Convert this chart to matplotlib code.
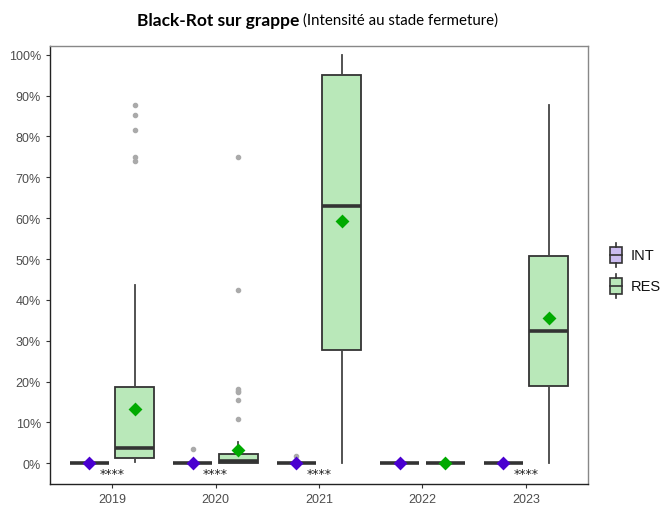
import matplotlib
matplotlib.use("Agg")
import matplotlib.pyplot as plt
from matplotlib.patches import Rectangle
from matplotlib.lines import Line2D

years = ["2019", "2020", "2021", "2022", "2023"]
series = ["INT", "RES"]

# RES box statistics (fractions)
res_whislo = [0.0025, 0.0, 0.0, 0.0, 0.0]
res_q1 = [0.012, 0.0, 0.277, 0.0, 0.188]
res_med = [0.037, 0.006, 0.63, 0.0, 0.323]
res_q3 = [0.186, 0.023, 0.95, 0.0, 0.508]
res_whishi = [0.437, 0.051, 1.0, 0.0, 0.878]
res_mean = [0.132, 0.033, 0.593, 0.0, 0.356]
res_fliers = [[0.877, 0.852, 0.815, 0.749, 0.741],
              [0.75, 0.424, 0.182, 0.177, 0.174, 0.156, 0.109],
              [], [], []]

# INT box statistics (fractions)
int_whislo = [0.0, 0.0, 0.0, 0.0, 0.0]
int_q1 = [0.0, 0.0, 0.0, 0.0, 0.0]
int_med = [0.0, 0.0, 0.0, 0.0, 0.0]
int_q3 = [0.0, 0.0, 0.0, 0.0, 0.0]
int_whishi = [0.0, 0.0, 0.0, 0.0, 0.0]
int_mean = [0.0, 0.0, 0.0, 0.0, 0.0]
int_fliers = [[], [0.035], [0.019, 0.006], [], []]

signif = ["****", "****", "****", "", "****"]

fill_int = "#cbbcf0"
fill_res = "#b9e8b9"
mean_int = "#4a00d0"
mean_res = "#00aa00"
edge = "#333333"

W, H = 664, 506
fig = plt.figure(figsize=(W/100, H/100), dpi=100)
ax = fig.add_axes([50/W, 21/H, 538/W, 437.7/H])

xs = list(range(1, len(years) + 1))
off = 0.22
w = 0.375

def stats(wl, q1, med, q3, wh, fl):
    return [dict(whislo=a, q1=b, med=c, q3=d, whishi=e, fliers=f)
            for a, b, c, d, e, f in zip(wl, q1, med, q3, wh, fl)]

for st, pos, fc in [
    (stats(int_whislo, int_q1, int_med, int_q3, int_whishi, int_fliers), [x - off for x in xs], fill_int),
    (stats(res_whislo, res_q1, res_med, res_q3, res_whishi, res_fliers), [x + off for x in xs], fill_res),
]:
    ax.bxp(st, positions=pos, widths=w, patch_artist=True, showcaps=False,
           boxprops=dict(facecolor=fc, edgecolor=edge, linewidth=1.3),
           whiskerprops=dict(color="#444444", linewidth=1.3),
           medianprops=dict(color=edge, linewidth=2.6, solid_capstyle="butt"),
           flierprops=dict(marker="o", markersize=3, markerfacecolor="#aaaaaa",
                           markeredgecolor="#aaaaaa", linestyle="none"),
           manage_ticks=False, zorder=2)

ax.scatter([x - off for x in xs], int_mean, marker="D", s=50, color=mean_int, zorder=4, linewidths=0)
ax.scatter([x + off for x in xs], res_mean, marker="D", s=50, color=mean_res, zorder=4, linewidths=0)

for x, s in zip(xs, signif):
    if s:
        ax.text(x, -0.008, s, ha="center", va="top", fontsize=9, color="#222222",
                family="DejaVu Sans")

ax.set_xlim(0.4, 5.6)
ax.set_ylim(-0.0507, 1.0206)
ax.set_xticks(xs)
ax.set_xticklabels(years)
yt = [i / 10 for i in range(11)]
ax.set_yticks(yt)
ax.set_yticklabels([f"{int(round(v*100))}%" for v in yt])
ax.tick_params(axis="both", labelsize=9, colors="#333333", labelcolor="#4d4d4d",
               length=3, width=0.8)
for lab in ax.get_xticklabels() + ax.get_yticklabels():
    lab.set_family("Liberation Sans")
for s in ["top", "right"]:
    ax.spines[s].set_color("#888888")
for s in ["left", "bottom"]:
    ax.spines[s].set_color("#222222")
for s in ax.spines.values():
    s.set_linewidth(1.0)

# Title (bold + normal parts)
t1 = fig.text(137/W, 1 - 21/H, "Black-Rot sur grappe", fontsize=12.5, fontweight="bold",
              family="Lato", va="center", ha="left")
fig.canvas.draw()
bb = t1.get_window_extent()
fig.text((bb.x1 + 4) / W, 1 - 21/H, "(Intensité au stade fermeture)",
         fontsize=10.8, family="Lato", va="center", ha="left")

# Legend drawn manually (box glyphs)
for lab, fc, cy in [(series[0], fill_int, 256), (series[1], fill_res, 287)]:
    cx = 616
    bw, bh = 12, 16
    fig.add_artist(Rectangle(((cx - bw/2)/W, 1 - (cy + bh/2)/H), bw/W, bh/H,
                             transform=fig.transFigure, facecolor=fc, edgecolor=edge, linewidth=1.2))
    fig.add_artist(Line2D([(cx - bw/2)/W, (cx + bw/2)/W], [1 - cy/H]*2,
                          transform=fig.transFigure, color=edge, linewidth=1.2))
    fig.add_artist(Line2D([cx/W]*2, [1 - (cy - bh/2)/H, 1 - (cy - bh/2 - 4)/H],
                          transform=fig.transFigure, color=edge, linewidth=1.2))
    fig.add_artist(Line2D([cx/W]*2, [1 - (cy + bh/2)/H, 1 - (cy + bh/2 + 4)/H],
                          transform=fig.transFigure, color=edge, linewidth=1.2))
    fig.text(631/W, 1 - cy/H, lab, fontsize=10.5, family="Liberation Sans",
             va="center", ha="left", color="#111111")

fig.savefig("out.png", dpi=100)
